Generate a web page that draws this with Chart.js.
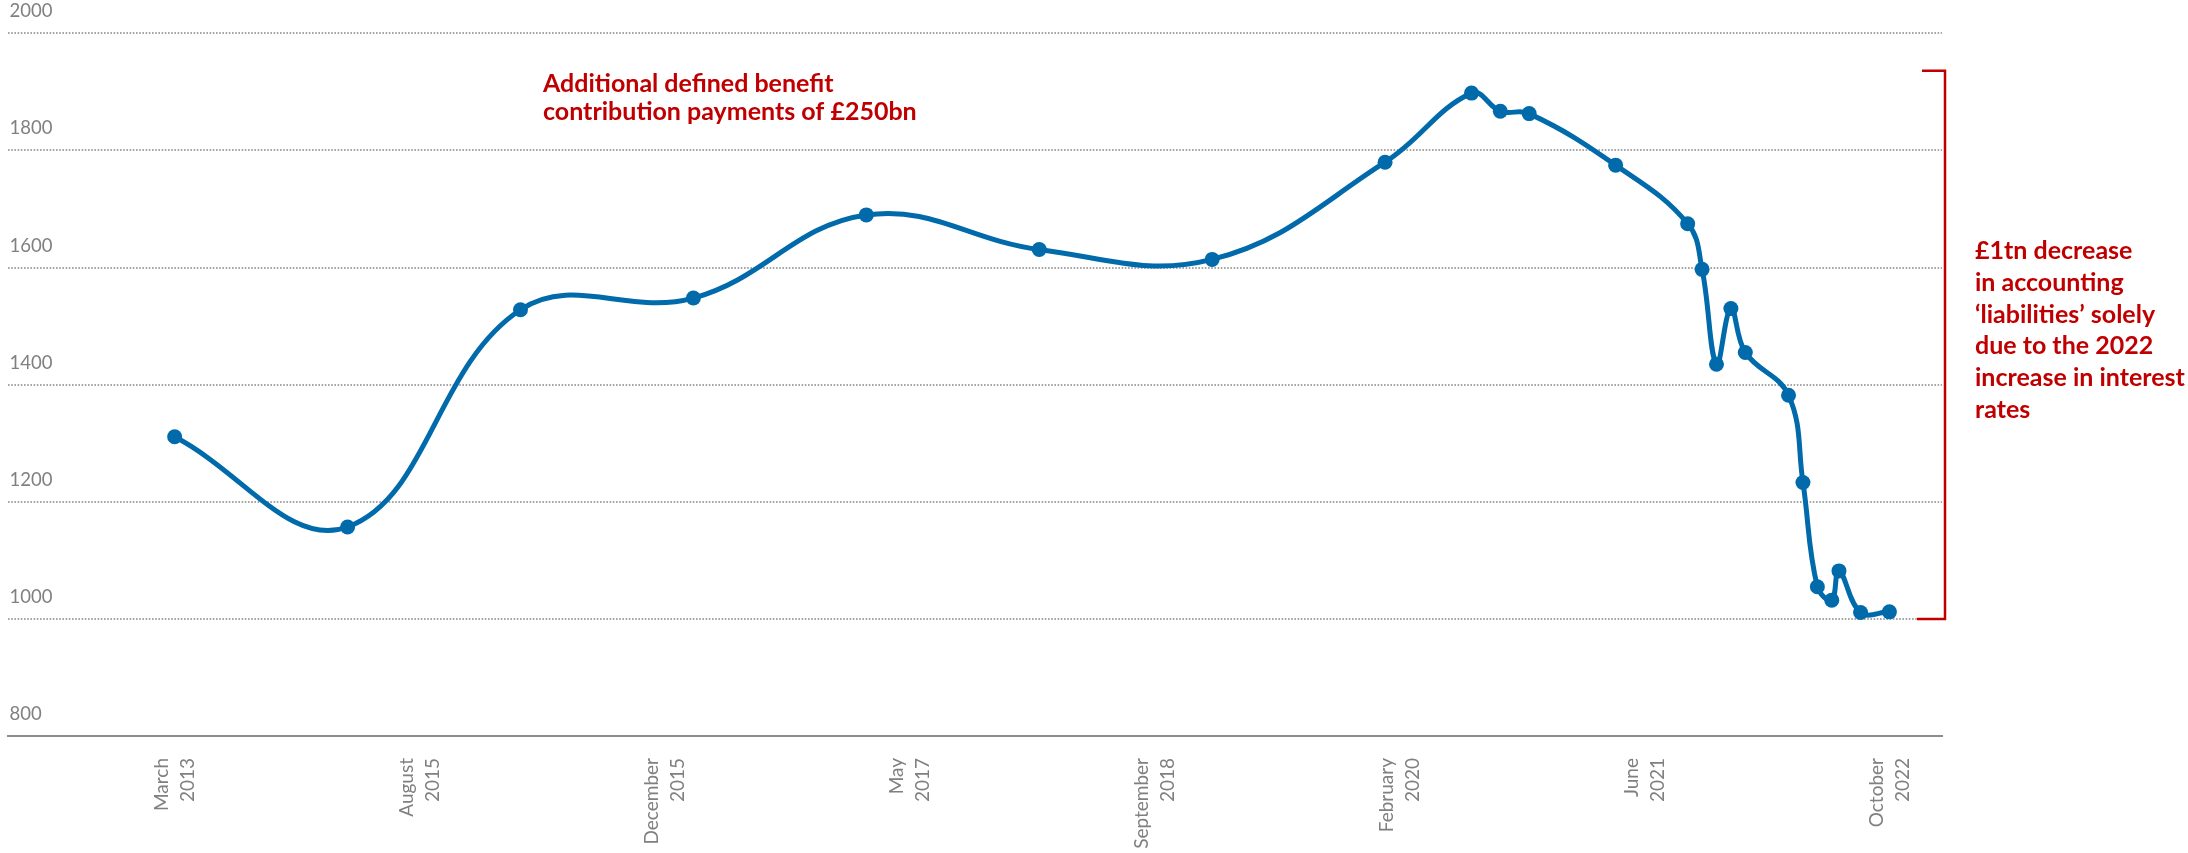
<!DOCTYPE html>
<html>
<head>
<meta charset="utf-8">
<title>Defined benefit pension liabilities</title>
<script src="https://cdn.jsdelivr.net/npm/chart.js@4.4.1/dist/chart.umd.min.js"></script>
<style>
  html, body { margin: 0; padding: 0; background: #ffffff; }
  #wrap { width: 2188px; height: 853px; position: relative; }
</style>
</head>
<body>
<div id="wrap"><canvas id="chart" width="2188" height="853"></canvas></div>
<script>
// Position of each observation along the period axis (one step per period slot)
const periodIndex = [0, 12, 24, 36, 48, 60, 72, 84, 90, 92, 94, 100, 105, 106, 107, 108, 109, 112, 113, 114, 115, 115.5, 117, 119];
// Accounting liabilities, £bn
const liabilities = [1311, 1157, 1528, 1548, 1690, 1631, 1614, 1780, 1898, 1867, 1863, 1775, 1675, 1597, 1435, 1530, 1455, 1382, 1233, 1055, 1032, 1082, 1011, 1012];

// Labelled period slots and their captions
const tickIndex = [0, 17, 34, 51, 68, 85, 102, 119];
const tickLabels = [
  ["March", "2013"], ["August", "2015"], ["December", "2015"], ["May", "2017"],
  ["September", "2018"], ["February", "2020"], ["June", "2021"], ["October", "2022"]
];

// Value axis
const yMin = 800, yMax = 2000, yStep = 200;

// Notes
const noteContributions = ["Additional defined benefit", "contribution payments of £250bn"];
const noteRates = ["£1tn decrease", "in accounting", "\u2018liabilities\u2019 solely", "due to the 2022", "increase in interest", "rates"];
const rateDropRange = [1000, 1936];

const BLUE = '#006aab';
const RED = '#c00000';
const GREY_TEXT = '#808080';

const notesPlugin = {
  id: 'notes',
  afterDraw(chart) {
    const { ctx } = chart;
    const y = chart.scales.y;
    ctx.save();
    ctx.fillStyle = RED;
    ctx.font = 'bold 25px Lato';
    ctx.textAlign = 'left';
    ctx.textBaseline = 'alphabetic';
    noteContributions.forEach((t, i) => ctx.fillText(t, 543, 92 + i * 27.5));
    noteRates.forEach((t, i) => ctx.fillText(t, 1975, 259 + i * 31.8));

    // bracket spanning the fall
    const top = y.getPixelForValue(rateDropRange[1]);
    const bottom = y.getPixelForValue(rateDropRange[0]);
    ctx.strokeStyle = RED;
    ctx.lineWidth = 2.5;
    ctx.lineJoin = 'miter';
    ctx.beginPath();
    ctx.moveTo(1922, top);
    ctx.lineTo(1945, top);
    ctx.lineTo(1945, bottom);
    ctx.lineTo(1917, bottom);
    ctx.stroke();
    ctx.restore();
  }
};

new Chart(document.getElementById('chart'), {
  type: 'line',
  data: {
    datasets: [{
      data: periodIndex.map((p, i) => ({ x: p, y: liabilities[i] })),
      borderColor: BLUE,
      backgroundColor: BLUE,
      borderWidth: 5,
      pointRadius: 7.5,
      pointBorderWidth: 0,
      pointBackgroundColor: BLUE,
      tension: 0.4,
      fill: false,
      clip: false
    }]
  },
  options: {
    responsive: false,
    animation: false,
    devicePixelRatio: 1,
    layout: { padding: { left: 0, right: 246, top: 33.4, bottom: 0 } },
    plugins: { legend: { display: false }, tooltip: { enabled: false } },
    scales: {
      x: {
        type: 'linear',
        min: -11.6,
        max: 122.65,
        afterBuildTicks: (axis) => { axis.ticks = tickIndex.map(v => ({ value: v })); },
        afterFit: (scale) => { scale.height = 117; },
        grid: { display: false, drawTicks: false },
        border: { display: true, color: '#8c8c8c', width: 2 },
        ticks: {
          autoSkip: false,
          maxRotation: 90,
          minRotation: 90,
          padding: 22,
          labelOffset: -13,
          color: GREY_TEXT,
          font: { family: 'Lato', size: 19, lineHeight: 1.37 },
          callback: (value, index) => tickLabels[index]
        }
      },
      y: {
        min: yMin,
        max: yMax,
        grid: {
          drawTicks: false,
          lineWidth: 2,
          color: (ctx) => (ctx.tick && ctx.tick.value === yMin) ? 'rgba(0,0,0,0)' : '#a6a6a6'
        },
        border: { display: false, dash: [1.6, 1.6] },
        ticks: {
          stepSize: yStep,
          mirror: true,
          padding: 2,
          labelOffset: -22,
          color: GREY_TEXT,
          font: { family: 'Lato', size: 18.5 },
          callback: (value) => String(value)
        }
      }
    }
  },
  plugins: [notesPlugin]
});
</script>
</body>
</html>
